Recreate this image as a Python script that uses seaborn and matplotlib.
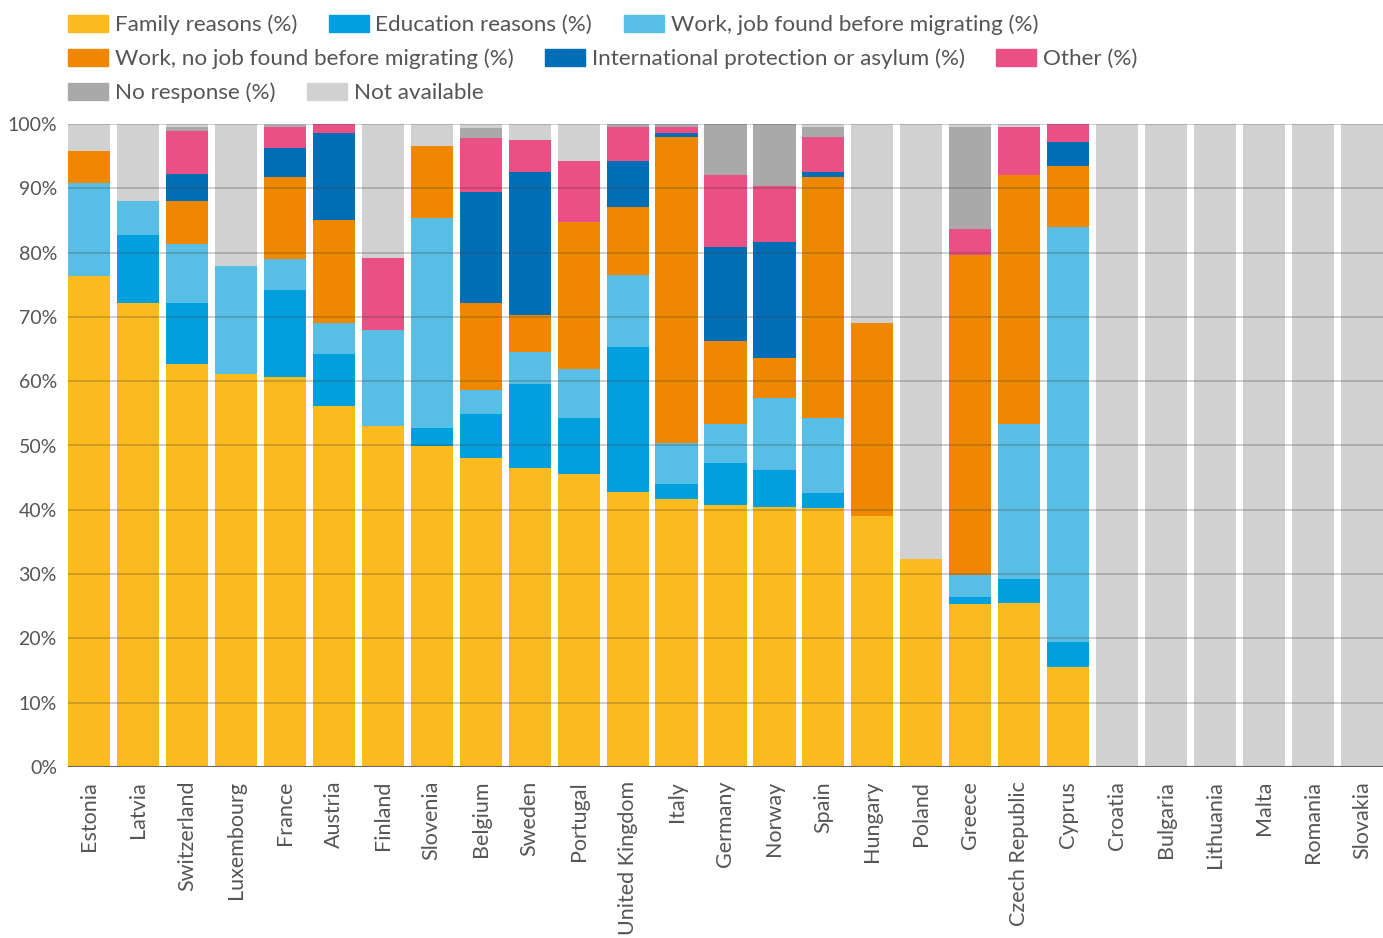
import numpy as np
import pandas as pd
import matplotlib
matplotlib.use("Agg")
import matplotlib.pyplot as plt
import matplotlib.patches as mpatches
import seaborn as sns

countries = ["Estonia", "Latvia", "Switzerland", "Luxembourg", "France", "Austria",
             "Finland", "Slovenia", "Belgium", "Sweden", "Portugal", "United Kingdom",
             "Italy", "Germany", "Norway", "Spain", "Hungary", "Poland", "Greece",
             "Czech Republic", "Cyprus", "Croatia", "Bulgaria", "Lithuania", "Malta",
             "Romania", "Slovakia"]

family = [76.4, 72.2, 62.7, 61.1, 60.7, 56.1, 53.0, 49.9, 48.1, 46.5, 45.6, 42.8,
          41.7, 40.7, 40.4, 40.3, 39.0, 32.3, 25.3, 25.5, 15.6, 0, 0, 0, 0, 0, 0]
education = [0, 10.5, 9.5, 0, 13.5, 8.1, 0, 2.8, 6.8, 13.1, 8.6, 22.5,
             2.3, 6.6, 5.8, 2.3, 0, 0, 1.1, 3.7, 3.8, 0, 0, 0, 0, 0, 0]
work_job = [14.4, 5.3, 9.1, 16.8, 4.8, 4.9, 15.0, 32.7, 3.7, 5.0, 7.7, 11.2,
            6.4, 6.1, 11.2, 11.7, 0, 0, 3.5, 24.2, 64.6, 0, 0, 0, 0, 0, 0]
work_nojob = [5.0, 0, 6.7, 0, 12.8, 16.0, 0, 11.2, 13.5, 5.7, 22.8, 10.6,
              47.6, 12.9, 6.2, 37.5, 30.1, 0, 49.7, 38.7, 9.5, 0, 0, 0, 0, 0, 0]
protection = [0, 0, 4.2, 0, 4.5, 13.5, 0, 0, 17.3, 22.3, 0, 7.1,
              0.6, 14.6, 18.0, 0.8, 0, 0, 0, 0, 3.7, 0, 0, 0, 0, 0, 0]
other = [0, 0, 6.7, 0, 3.2, 1.4, 11.2, 0, 8.5, 4.9, 9.5, 5.3,
         0.9, 11.2, 8.8, 5.4, 0, 0, 4.1, 7.4, 2.8, 0, 0, 0, 0, 0, 0]
no_response = [0, 0, 0.6, 0, 0.3, 0, 0, 0, 1.5, 0, 0, 0.5,
               0.5, 7.9, 9.6, 1.5, 0, 0, 15.8, 0, 0, 0, 0, 0, 0, 0, 0]
not_available = [4.2, 12.0, 0.5, 22.1, 0.2, 0, 20.8, 3.4, 0.6, 2.5, 5.8, 0,
                 0, 0, 0, 0.5, 30.9, 67.7, 0.5, 0.5, 0, 100, 100, 100, 100, 100, 100]

labels = ["Family reasons (%)", "Education reasons (%)", "Work, job found before migrating (%)",
          "Work, no job found before migrating (%)", "International protection or asylum (%)",
          "Other (%)", "No response (%)", "Not available"]
colors = ["#FBBA1E", "#00A0DF", "#59BEE5", "#F08700", "#006EB6", "#EA5084", "#A9A9A9", "#D0D1D0"]

sns.set_theme(style="white")
plt.rcParams["font.family"] = ["Lato", "DejaVu Sans"]
text_color = "#555555"

df = pd.DataFrame({"country": countries})
series = [family, education, work_job, work_nojob, protection, other, no_response, not_available]
for lab, vals in zip(labels, series):
    df[lab] = vals

fig = plt.figure(figsize=(13.83, 9.38), dpi=100)
ax = fig.add_axes([68 / 1383, 171 / 938, 1 - 68 / 1383, 643 / 938])

# stacked bars: draw cumulative totals from the top layer down
cum = df[labels].cumsum(axis=1)
for lab, col in reversed(list(zip(labels, colors))):
    sns.barplot(x=df["country"], y=cum[lab], color=col, saturation=1, width=0.86,
                linewidth=0, errorbar=None, ax=ax)

ax.set_xlim(-0.43, len(countries) - 1 + 0.43)
ax.set_ylim(0, 100)
ax.set_yticks(np.arange(0, 101, 10))
ax.set_yticklabels([f"{v}%" for v in range(0, 101, 10)])
ax.set_xlabel("")
ax.set_ylabel("")
for s in ax.spines.values():
    s.set_visible(False)

# gridlines sit on top of the bars
for v in range(10, 101, 10):
    ax.axhline(v, color="#444444", alpha=0.3, linewidth=1.2, zorder=5)
ax.axhline(0, color="#666666", linewidth=1.5, zorder=5)

ax.tick_params(axis="y", length=0, pad=8, labelsize=14, labelcolor=text_color)
ax.tick_params(axis="x", length=0, pad=10, labelsize=15.5, labelcolor=text_color, rotation=90)
for t in ax.get_xticklabels():
    t.set_va("top")

# legend, one row at a time
rows = [[0, 1, 2], [3, 4, 5], [6, 7]]
row_y = [25, 59, 93]
for idx, y in zip(rows, row_y):
    handles = [mpatches.Patch(color=colors[i], label=labels[i]) for i in idx]
    fig.legend(handles=handles, loc="center left", bbox_to_anchor=(68 / 1383, 1 - y / 938),
               ncol=len(idx), frameon=False, fontsize=16.2, handlelength=1.78, handleheight=0.8,
               handletextpad=0.3, columnspacing=1.4, borderpad=0, borderaxespad=0,
               labelcolor=text_color)

fig.savefig("out.png", dpi=100)
